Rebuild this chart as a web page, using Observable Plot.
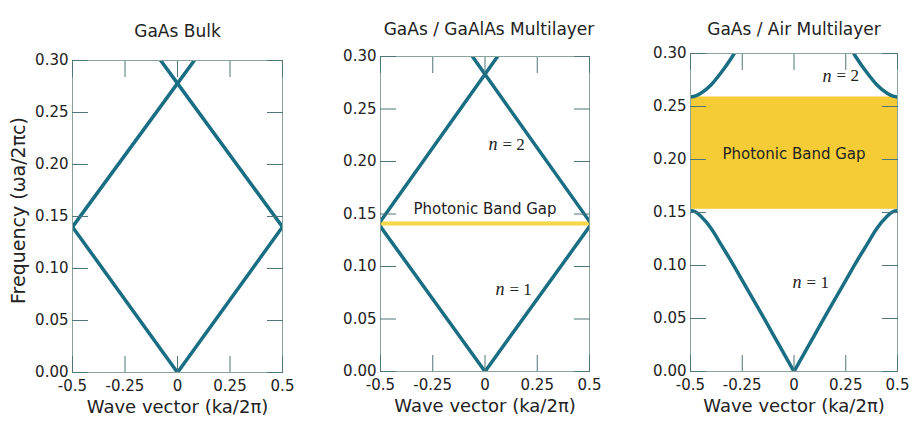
<!DOCTYPE html>
<html><head><meta charset="utf-8">
<script src="https://cdn.jsdelivr.net/npm/d3@7"></script>
<script src="https://cdn.jsdelivr.net/npm/@observablehq/plot@0.6"></script>
<style>
html,body{margin:0;padding:0;background:#fff;}
#chart{position:relative;width:914px;height:422px;overflow:hidden;background:#fff;}
#chart svg{position:absolute;top:0;}
</style></head><body><div id="chart"></div>
<script>
// ---- axes ----
const kDomain = [-0.5, 0.5];
const wDomain = [0, 0.30];
const kTicks = [-0.5, -0.25, 0, 0.25, 0.5];
const kTickLabels = ["-0.5", "-0.25", "0", "0.25", "0.5"];
const wTicks = [0, 0.05, 0.10, 0.15, 0.20, 0.25, 0.30];
const wTickLabels = ["0.00", "0.05", "0.10", "0.15", "0.20", "0.25", "0.30"];
const titles = ["GaAs Bulk", "GaAs / GaAlAs Multilayer", "GaAs / Air Multilayer"];
const xLabel = "Wave vector (ka/2\u03c0)";
const yLabel = "Frequency (\u03c9a/2\u03c0c)";
const gapLabel = "Photonic Band Gap";

// ---- panel 1: GaAs bulk (folded light line) ----
const bulkBand1K = [-0.5, 0, 0.5];
const bulkBand1W = [0.14, 0, 0.14];
const bulkBand2aK = [-0.5, 0, 0.08];
const bulkBand2aW = [0.14, 0.278, 0.30];
const bulkBand2bK = [0.5, 0, -0.08];
const bulkBand2bW = [0.14, 0.278, 0.30];

// ---- panel 2: GaAs / GaAlAs multilayer ----
const mlBand1K = [-0.5, 0, 0.5];
const mlBand1W = [0.138, 0, 0.138];
const mlBand2aK = [-0.5, 0, 0.06];
const mlBand2aW = [0.143, 0.283, 0.30];
const mlBand2bK = [0.5, 0, -0.06];
const mlBand2bW = [0.143, 0.283, 0.30];
const mlGap = [0.1385, 0.1425];
const mlGapLabelPos = [0, 0.155];
const mlN = ["1", "2"];
const mlNK = [0.136, 0.103];
const mlNW = [0.078, 0.216];

// ---- panel 3: GaAs / Air multilayer ----
const airBand1LeftK = [-0.5, -0.475, -0.45, -0.4, -0.35, -0.3, -0.25, -0.2, -0.15, -0.1, -0.05, 0];
const airBand1LeftW = [0.152, 0.1505, 0.1465, 0.135, 0.119, 0.103, 0.086, 0.069, 0.052, 0.0346, 0.0173, 0];
const airBand1RightK = [0, 0.05, 0.1, 0.15, 0.2, 0.25, 0.3, 0.35, 0.4, 0.45, 0.475, 0.5];
const airBand1RightW = [0, 0.0173, 0.0346, 0.052, 0.069, 0.086, 0.103, 0.119, 0.135, 0.1465, 0.1505, 0.152];
const airBand2LeftK = [-0.5, -0.475, -0.45, -0.4, -0.35, -0.3, -0.27];
const airBand2LeftW = [0.259, 0.260, 0.2625, 0.2705, 0.2825, 0.2965, 0.306];
const airBand2RightK = [0.27, 0.3, 0.35, 0.4, 0.45, 0.475, 0.5];
const airBand2RightW = [0.306, 0.2965, 0.2825, 0.2705, 0.2625, 0.260, 0.259];
const airGap = [0.153, 0.259];
const airGapLabelPos = [0, 0.205];
const airN = ["1", "2"];
const airNK = [0.08, 0.225];
const airNW = [0.084, 0.279];

// ---- styling ----
const curveColor = "#1a6e84";
const tickColor = "#4f7479";
const frameColor = "#8aa39c";
const textColor = "#222";
const gapYellowThin = "#f5d84a";
const gapYellow = "#f6cc36";

function series(name, ks, ws) {
  return ks.map((k, i) => ({band: name, k, w: ws[i]}));
}

function axesMarks() {
  const kFmt = d => kTickLabels[kTicks.indexOf(d)];
  const wFmt = d => wTickLabels[wTicks.indexOf(d)];
  return [
    Plot.frame({stroke: frameColor, strokeWidth: 1}),
    Plot.axisX(kTicks, {anchor: "bottom", tickSize: 16, insetBottom: 16, fill: "none", stroke: tickColor}),
    Plot.axisX(kTicks, {anchor: "top", tickSize: 16, insetTop: 16, fill: "none", stroke: tickColor}),
    Plot.axisY(wTicks, {anchor: "left", tickSize: 16, insetLeft: 16, fill: "none", stroke: tickColor}),
    Plot.axisY(wTicks, {anchor: "right", tickSize: 16, insetRight: 16, fill: "none", stroke: tickColor}),
    Plot.axisX(kTicks, {anchor: "bottom", tickSize: 0, tickPadding: 8, tickFormat: kFmt, label: null, fill: textColor, fontSize: 15}),
    Plot.axisY(wTicks, {anchor: "left", tickSize: 0, tickPadding: 4, tickFormat: wFmt, label: null, fill: textColor, fontSize: 15})
  ];
}

function nLabels(ns, ks, ws) {
  const d = ns.map((n, i) => ({n, k: ks[i], w: ws[i]}));
  return [
    Plot.text(d, {x: "k", y: "w", text: () => "n", textAnchor: "end", dx: -9, fontFamily: "Liberation Serif", fontStyle: "italic", fontSize: 18, fill: textColor}),
    Plot.text(d, {x: "k", y: "w", text: d => "= " + d.n, textAnchor: "start", dx: -4, fontFamily: "Liberation Serif", fontSize: 17, fill: textColor})
  ];
}

function panel({left, width, ml, mr, mt, mb, title, titleDx, titleDy, showY, marks}) {
  const svg = Plot.plot({
    width, height: 422,
    marginLeft: ml, marginRight: mr, marginTop: mt, marginBottom: mb,
    style: {fontFamily: "DejaVu Sans", fontSize: "15px", color: textColor, background: "transparent", overflow: "visible"},
    x: {domain: kDomain},
    y: {domain: wDomain},
    marks: [
      ...marks,
      ...axesMarks(),
      Plot.text([title], {text: d => d, frameAnchor: "top", textAnchor: "middle", dy: titleDy, dx: titleDx, fontSize: 17, fill: textColor}),
      Plot.text([xLabel], {text: d => d, frameAnchor: "bottom", textAnchor: "middle", dy: 40, fontSize: 18, fill: textColor}),
      showY ? Plot.text([yLabel], {text: d => d, frameAnchor: "left", textAnchor: "middle", rotate: -90, dx: -54, dy: -6, fontSize: 19, fill: textColor}) : null
    ]
  });
  svg.style.left = left + "px";
  document.getElementById("chart").appendChild(svg);
}

// Panel 1
const bulkData = [
  ...series("b1", bulkBand1K, bulkBand1W),
  ...series("b2a", bulkBand2aK, bulkBand2aW),
  ...series("b2b", bulkBand2bK, bulkBand2bW)
];
panel({
  left: 0, width: 300, ml: 72, mr: 18, mt: 60, mb: 50,
  title: titles[0], titleDx: 0, titleDy: -36, showY: true,
  marks: [
    Plot.line(bulkData, {x: "k", y: "w", z: "band", stroke: curveColor, strokeWidth: 3.5, clip: true, strokeLinejoin: "miter"})
  ]
});

// Panel 2
const mlData = [
  ...series("b1", mlBand1K, mlBand1W),
  ...series("b2a", mlBand2aK, mlBand2aW),
  ...series("b2b", mlBand2bK, mlBand2bW)
];
panel({
  left: 300, width: 305, ml: 80, mr: 16, mt: 56, mb: 51,
  title: titles[1], titleDx: 4, titleDy: -34, showY: false,
  marks: [
    Plot.rect([mlGap], {x1: () => kDomain[0], x2: () => kDomain[1], y1: d => d[0], y2: d => d[1], fill: gapYellowThin}),
    Plot.line(mlData, {x: "k", y: "w", z: "band", stroke: curveColor, strokeWidth: 3.5, clip: true, strokeLinejoin: "miter"}),
    Plot.text([gapLabel], {text: d => d, x: () => mlGapLabelPos[0], y: () => mlGapLabelPos[1], fontSize: 15, fill: textColor}),
    ...nLabels(mlN, mlNK, mlNW)
  ]
});

// Panel 3
const airData = [
  ...series("b1L", airBand1LeftK, airBand1LeftW),
  ...series("b1R", airBand1RightK, airBand1RightW),
  ...series("b2L", airBand2LeftK, airBand2LeftW),
  ...series("b2R", airBand2RightK, airBand2RightW)
];
panel({
  left: 605, width: 309, ml: 85, mr: 17, mt: 53, mb: 51,
  title: titles[2], titleDx: 0, titleDy: -31, showY: false,
  marks: [
    Plot.rect([airGap], {x1: () => kDomain[0], x2: () => kDomain[1], y1: d => d[0], y2: d => d[1], fill: gapYellow}),
    Plot.line(airData, {x: "k", y: "w", z: "band", stroke: curveColor, strokeWidth: 3.5, clip: true, curve: "monotone-x"}),
    Plot.text([gapLabel], {text: d => d, x: () => airGapLabelPos[0], y: () => airGapLabelPos[1], fontSize: 15, fill: textColor}),
    ...nLabels(airN, airNK, airNW)
  ]
});
</script></body></html>
